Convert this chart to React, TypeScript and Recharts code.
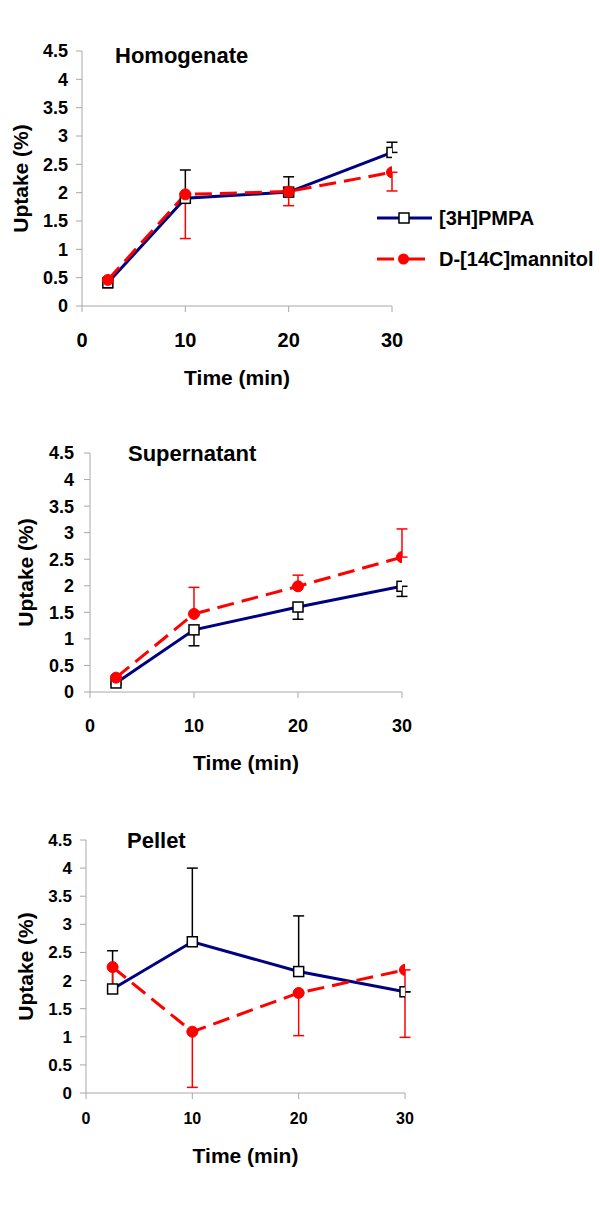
import { LineChart, Line, XAxis, YAxis, ErrorBar, Legend, Label } from "recharts"

const time = [2.5, 10, 20, 30]
const xTicks = [0, 10, 20, 30]
const yTicks = [0, 0.5, 1, 1.5, 2, 2.5, 3, 3.5, 4, 4.5]

const pmpaName = "[3H]PMPA"
const mannitolName = "D-[14C]mannitol"
const legendOrder = [pmpaName, mannitolName]

// Homogenate
const homogenatePmpa = [0.41, 1.9, 2.01, 2.71]
const homogenatePmpaErr = [0.05, 0.5, 0.27, 0.18] // drawn upward
const homogenateMannitol = [0.46, 1.97, 2.02, 2.36]
const homogenateMannitolErr = [0.14, 0.78, 0.25, 0.33] // drawn downward

// Supernatant
const supernatantPmpa = [0.17, 1.17, 1.6, 1.99]
const supernatantPmpaErr = [0.03, 0.3, 0.23, 0.19] // downward
const supernatantMannitol = [0.27, 1.47, 1.99, 2.54]
const supernatantMannitolErr = [0.03, 0.5, 0.21, 0.53] // upward

// Pellet
const pelletPmpa = [1.85, 2.69, 2.16, 1.8]
const pelletPmpaErr = [0.68, 1.31, 0.99, 0] // upward
const pelletMannitol = [2.24, 1.09, 1.78, 2.19]
const pelletMannitolErr = [0.38, 0.99, 0.76, 1.2] // downward

const FONT = '"Liberation Sans", Arial, Helvetica, sans-serif'
const BLUE = "#000080"
const RED = "#ff0000"
const AXIS = "#a8a8a8"

function buildRows(
  pmpa: number[],
  pmpaErr: number[],
  pmpaUp: boolean,
  man: number[],
  manErr: number[],
  manUp: boolean
) {
  return time.map((t, i) => ({
    t,
    pmpa: pmpa[i],
    pmpaErr: pmpaUp ? [0, pmpaErr[i]] : [pmpaErr[i], 0],
    man: man[i],
    manErr: manUp ? [0, manErr[i]] : [manErr[i], 0],
  }))
}

const SquareDot = (props: any) => {
  const { cx, cy, index } = props
  if (cx == null || cy == null) return <g key={`sq-${index}`} />
  return (
    <rect
      key={`sq-${index}`}
      x={cx - 5}
      y={cy - 5}
      width={10}
      height={10}
      fill="#fff"
      stroke="#000"
      strokeWidth={1.5}
    />
  )
}

const CircleDot = (props: any) => {
  const { cx, cy, index } = props
  if (cx == null || cy == null) return <g key={`ci-${index}`} />
  return <circle key={`ci-${index}`} cx={cx} cy={cy} r={5.5} fill={RED} stroke={RED} />
}

function LegendContent({ payload }: any) {
  const names = (payload ?? []).map((e: any) => e.value)
  const items = legendOrder.filter((n) => names.length === 0 || names.includes(n))
  return (
    <svg width={230} height={66} style={{ display: "block", overflow: "visible" }}>
      {items.map((name, i) => {
        const y = 13 + i * 41
        const isPmpa = name === pmpaName
        return (
          <g key={name}>
            {isPmpa ? (
              <>
                <line x1={0} x2={55} y1={y} y2={y} stroke={BLUE} strokeWidth={3} />
                <rect x={22} y={y - 5} width={10} height={10} fill="#fff" stroke="#000" strokeWidth={1.5} />
              </>
            ) : (
              <>
                <line x1={0} x2={17} y1={y} y2={y} stroke={RED} strokeWidth={3} />
                <line x1={31} x2={48} y1={y} y2={y} stroke={RED} strokeWidth={3} />
                <circle cx={26.5} cy={y} r={5.5} fill={RED} />
              </>
            )}
            <text
              x={62}
              y={y}
              dominantBaseline="central"
              fontSize={20}
              fontWeight="bold"
              fontFamily={FONT}
              fill="#000"
            >
              {name}
            </text>
          </g>
        )
      })}
    </svg>
  )
}

type PanelProps = {
  top: number
  height: number
  margin: { top: number; right: number; bottom: number; left: number }
  title: string
  titleLeft: number
  titleTop: number
  rows: any[]
  xTickFont: number
  xTickMargin: number
  yTickFont: number
  yTickMargin: number
  xLabelDy: number
  yLabelDx: number
  showLegend?: boolean
}

function Panel(p: PanelProps) {
  return (
    <div style={{ position: "absolute", left: 0, top: p.top, width: 600, height: p.height }}>
      <LineChart width={600} height={p.height} data={p.rows} margin={p.margin} style={{ fontFamily: FONT }}>
        <XAxis
          dataKey="t"
          type="number"
          domain={[0, 30]}
          ticks={xTicks}
          allowDataOverflow
          height={30}
          stroke={AXIS}
          tickSize={6}
          tickMargin={p.xTickMargin}
          tickLine={{ stroke: AXIS }}
          tick={{ fill: "#000", fontSize: p.xTickFont, fontWeight: "bold", fontFamily: FONT }}
        >
          <Label
            content={(lp: any) => {
              const vb = lp.viewBox || {}
              return (
                <text
                  x={vb.x + vb.width / 2}
                  y={vb.y + p.xLabelDy}
                  textAnchor="middle"
                  dominantBaseline="central"
                  fontSize={21}
                  fontWeight="bold"
                  fontFamily={FONT}
                  fill="#000"
                >
                  Time (min)
                </text>
              )
            }}
          />
        </XAxis>
        <YAxis
          type="number"
          domain={[0, 4.5]}
          ticks={yTicks}
          allowDataOverflow
          width={60}
          stroke={AXIS}
          tickSize={6}
          tickMargin={p.yTickMargin}
          tickLine={{ stroke: AXIS }}
          tick={{ fill: "#000", fontSize: p.yTickFont, fontWeight: "bold", fontFamily: FONT }}
        >
          <Label
            content={(lp: any) => {
              const vb = lp.viewBox || {}
              const cx = vb.x + vb.width - p.yLabelDx
              const cy = vb.y + vb.height / 2
              return (
                <text
                  x={cx}
                  y={cy}
                  transform={`rotate(-90 ${cx} ${cy})`}
                  textAnchor="middle"
                  dominantBaseline="central"
                  fontSize={21}
                  fontWeight="bold"
                  fontFamily={FONT}
                  fill="#000"
                >
                  Uptake (%)
                </text>
              )
            }}
          />
        </YAxis>
        <Line
          name={pmpaName}
          type="linear"
          dataKey="pmpa"
          stroke={BLUE}
          strokeWidth={3}
          dot={SquareDot}
          activeDot={false}
          isAnimationActive={false}
        >
          <ErrorBar dataKey="pmpaErr" direction="y" width={5.5} stroke="#000" strokeWidth={1.5} />
        </Line>
        <Line
          name={mannitolName}
          type="linear"
          dataKey="man"
          stroke={RED}
          strokeWidth={3}
          strokeDasharray="17 8"
          dot={CircleDot}
          activeDot={false}
          isAnimationActive={false}
        >
          <ErrorBar dataKey="manErr" direction="y" width={5.5} stroke={RED} strokeWidth={1.5} />
        </Line>
        {p.showLegend && (
          <Legend
            layout="vertical"
            align="center"
            verticalAlign="middle"
            content={<LegendContent />}
            wrapperStyle={{ left: 377, top: 205, width: 230, height: 66 }}
          />
        )}
      </LineChart>
      <div
        style={{
          position: "absolute",
          left: p.titleLeft,
          top: p.titleTop - p.top,
          fontFamily: FONT,
          fontWeight: "bold",
          fontSize: 22,
          lineHeight: "22px",
          color: "#000",
          whiteSpace: "nowrap",
        }}
      >
        {p.title}
      </div>
    </div>
  )
}

export default function App() {
  const homogenateRows = buildRows(
    homogenatePmpa, homogenatePmpaErr, true,
    homogenateMannitol, homogenateMannitolErr, false
  )
  const supernatantRows = buildRows(
    supernatantPmpa, supernatantPmpaErr, false,
    supernatantMannitol, supernatantMannitolErr, true
  )
  const pelletRows = buildRows(
    pelletPmpa, pelletPmpaErr, true,
    pelletMannitol, pelletMannitolErr, false
  )

  return (
    <div style={{ position: "absolute", left: 0, top: 0, width: 600, height: 1220, background: "#fff" }}>
      <Panel
        top={0}
        height={400}
        margin={{ top: 51, right: 208, bottom: 64, left: 22 }}
        title="Homogenate"
        titleLeft={115}
        titleTop={45}
        rows={homogenateRows}
        xTickFont={20}
        xTickMargin={21}
        yTickFont={18}
        yTickMargin={8}
        xLabelDy={71}
        yLabelDx={62}
        showLegend
      />
      <Panel
        top={400}
        height={400}
        margin={{ top: 53, right: 198, bottom: 78, left: 30 }}
        title="Supernatant"
        titleLeft={128}
        titleTop={443}
        rows={supernatantRows}
        xTickFont={18}
        xTickMargin={21}
        yTickFont={18}
        yTickMargin={10}
        xLabelDy={70}
        yLabelDx={65}
      />
      <Panel
        top={800}
        height={420}
        margin={{ top: 40, right: 195, bottom: 97, left: 26 }}
        title="Pellet"
        titleLeft={127}
        titleTop={830}
        rows={pelletRows}
        xTickFont={16}
        xTickMargin={14}
        yTickFont={17}
        yTickMargin={8}
        xLabelDy={62}
        yLabelDx={61}
      />
    </div>
  )
}
